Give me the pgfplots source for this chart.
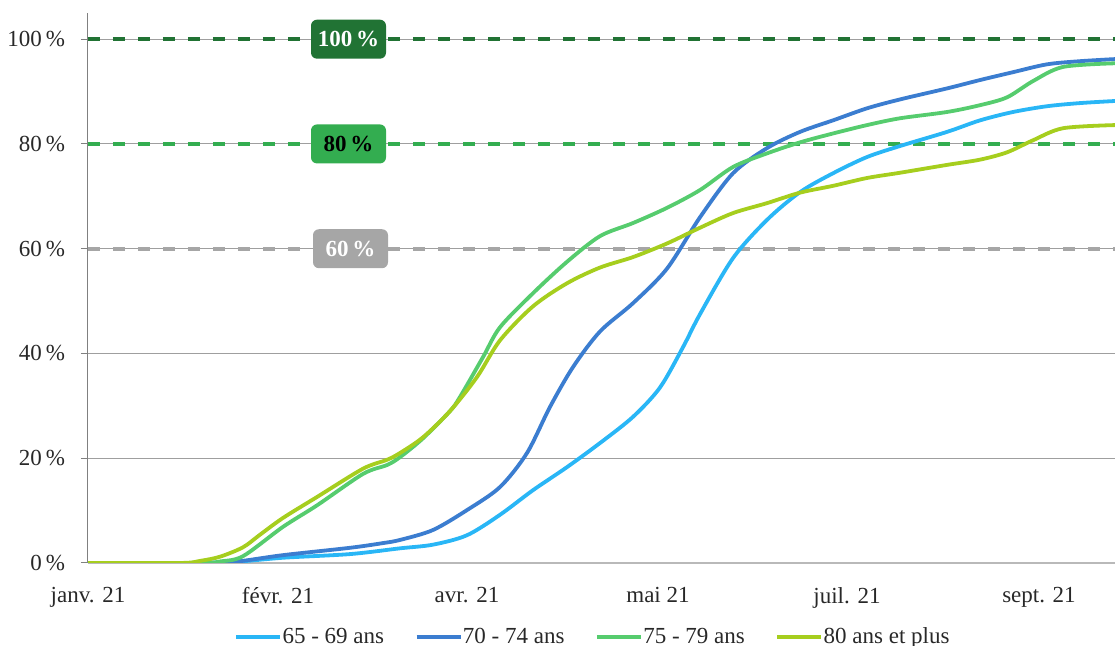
\documentclass[border=0pt]{standalone}
\usepackage{fontspec}
\setmainfont{Liberation Serif}
\usepackage{pgfplots}
\pgfplotsset{compat=1.18}
\definecolor{cA}{RGB}{41,182,246}
\definecolor{cB}{RGB}{59,125,208}
\definecolor{cC}{RGB}{86,204,110}
\definecolor{cD}{RGB}{166,206,30}
\definecolor{dkgreen}{RGB}{33,115,52}
\definecolor{mdgreen}{RGB}{51,173,80}
\definecolor{gry}{RGB}{166,166,166}
\definecolor{txt}{RGB}{40,40,40}
\begin{document}
\begin{tikzpicture}
\begin{axis}[
  at={(0,0)}, anchor=south west,
  scale only axis, width=513.5pt, height=275pt,
  xmin=88, xmax=1115, ymin=0, ymax=105,
  axis x line*=bottom, axis y line*=left,
  x axis line style={-, draw=gray!55, line width=0.9pt},
  y axis line style={-, draw=gray, line width=0.5pt},
  ytick={0,20,40,60,80,100},
  xtick={88,278,467,658,847,1039},
  xticklabels={janv. 21, févr. 21, avr. 21, mai 21, juil. 21, sept. 21},
  major x tick style={draw=none},
  ytick style={draw=gray, line width=0.5pt},
  tick align=outside, major tick length=3.5pt,
  ymajorgrids, grid style={gray!75, line width=0.5pt},
  yticklabel={\pgfmathprintnumber[assume math mode=true]{\tick}\,\%},
  tick label style={font=\fontsize{11.5}{13}\selectfont, text=txt},
  yticklabel style={xshift=-4.5pt},
  xticklabel style={yshift=-5pt},
  legend style={at={(0.491,-0.1345)}, anchor=center, draw=none, fill=none,
    legend columns=4, font=\fontsize{11.5}{13}\selectfont, text=txt,
    nodes={inner xsep=0.3pt},
    /tikz/every even column/.append style={column sep=15pt}},
  legend image code/.code={\draw[#1, line width=1.8pt] (0pt,0pt) -- (22pt,0pt);},
]
\addplot[dkgreen, line width=2pt, dash pattern=on 6pt off 6.5pt, forget plot] coordinates {(88,100) (1115,100)};
\addplot[mdgreen, line width=2pt, dash pattern=on 6pt off 6.5pt, forget plot] coordinates {(88,80) (1115,80)};
\addplot[gry, line width=2pt, dash pattern=on 6pt off 6.5pt, forget plot] coordinates {(88,60) (1115,60)};

\addplot[cA, line width=1.9pt, smooth, tension=0.5] coordinates {
(88,0) (180,0) (233,0.2) (283,1.0) (350,1.7) (400,2.8) (433,3.5) (467,5.3) (500,9.2) (533,13.9) (567,18.3) (600,22.9) (633,27.9) (660,33.5) (683,41.2) (700,47.5) (733,58.2) (767,65.5) (800,70.8) (833,74.4) (867,77.5) (900,79.6) (947,82.3) (980,84.5) (1013,86.1) (1047,87.2) (1080,87.8) (1115,88.2)};
\addlegendentry{65 - 69 ans}
\addplot[cB, line width=1.9pt, smooth, tension=0.5] coordinates {
(88,0) (190,0) (233,0.2) (283,1.5) (350,2.9) (383,3.8) (400,4.4) (433,6.3) (467,10.1) (500,14.5) (527,21) (550,29.8) (573,37.4) (600,44.2) (633,49.6) (667,56.2) (700,66) (733,74.4) (767,79.2) (800,82.3) (833,84.5) (867,86.8) (900,88.5) (947,90.6) (980,92.2) (1013,93.7) (1047,95.2) (1080,95.8) (1115,96.2)};
\addlegendentry{70 - 74 ans}
\addplot[cC, line width=1.9pt, smooth, tension=0.5] coordinates {
(88,0) (200,0) (220,0.3) (243,1.3) (283,6.9) (317,11) (363,17) (387,18.7) (400,20.2) (423,23.8) (450,29) (460,31.7) (483,39.3) (500,45) (533,51.5) (567,57.5) (600,62.4) (633,64.9) (667,67.8) (700,71.2) (733,75.6) (767,78.2) (800,80.3) (833,82) (867,83.6) (900,84.9) (947,86.1) (980,87.4) (1007,88.9) (1033,92) (1063,94.7) (1115,95.4)};
\addlegendentry{75 - 79 ans}
\addplot[cD, line width=1.9pt, smooth, tension=0.5] coordinates {
(88,0) (180,0) (200,0.4) (220,1.2) (243,3.0) (260,5.4) (283,8.6) (317,12.6) (363,18) (387,19.7) (400,21) (423,24) (450,29) (477,35.5) (500,42.5) (533,49) (567,53.4) (600,56.4) (633,58.4) (667,61) (700,64) (733,66.8) (767,68.7) (800,70.7) (833,72) (867,73.5) (900,74.5) (947,76) (980,77) (1007,78.4) (1033,80.7) (1063,83) (1115,83.6)};
\addlegendentry{80 ans et plus}

\node[fill=dkgreen, rounded corners=3pt, minimum width=37.5pt, minimum height=19.5pt, inner sep=0pt, text=white, font=\fontsize{11.5}{13}\selectfont\bfseries] at (axis cs:348.5,100) {100\,\%};
\node[fill=mdgreen, rounded corners=3pt, minimum width=37.5pt, minimum height=19.5pt, inner sep=0pt, text=black, font=\fontsize{11.5}{13}\selectfont\bfseries] at (axis cs:348.5,80) {80\,\%};
\node[fill=gry, rounded corners=3pt, minimum width=37.5pt, minimum height=19.5pt, inner sep=0pt, text=white, font=\fontsize{11.5}{13}\selectfont\bfseries] at (axis cs:350.5,60) {60\,\%};
\end{axis}
\pgfresetboundingbox
\path[use as bounding box] (-44pt,-41.5pt) rectangle (513.5pt,281.5pt);
\end{tikzpicture}
\end{document}
